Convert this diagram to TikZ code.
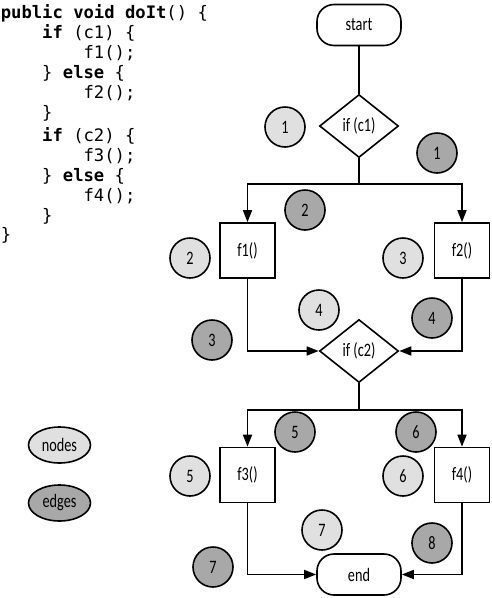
\documentclass[tikz,border=0pt]{standalone}
\usepackage{fontspec}
\setmainfont{Carlito}[FakeStretch=0.75]
\setmonofont{DejaVu Sans Mono}
\usetikzlibrary{shapes.geometric,arrows.meta}
\definecolor{nodegray}{HTML}{E0E0E0}
\definecolor{edgegray}{HTML}{A8A8A8}
\begin{document}
\begin{tikzpicture}[x=1pt,y=-1pt,line width=1.6pt,font=\fontsize{19}{21}\selectfont,
  term/.style={draw,rounded corners=17pt,minimum width=84pt,minimum height=41pt,inner sep=0pt},
  test/.style={draw,diamond,minimum width=79pt,minimum height=63pt,inner sep=0pt},
  stmt/.style={draw,minimum width=55pt,minimum height=55pt,inner sep=0pt},
  nodemark/.style={circle,draw,fill=nodegray,minimum size=40pt,inner sep=0pt},
  edgemark/.style={circle,draw,fill=edgegray,minimum size=40pt,inner sep=0pt},
  keymark/.style={ellipse,draw,minimum width=62pt,minimum height=36pt,inner sep=0pt},
  flow/.style={-{Triangle[length=12pt,width=9pt]}},
  codeline/.style={anchor=base west,inner sep=0pt,font=\ttfamily\fontsize{17.2}{20}\selectfont}]
 	\useasboundingbox (0,0) rectangle (492,598);
 	% source code
 	\node[codeline] (code1) at (0,18) {\textbf{public void doIt}() \{};
 	\node[codeline] (code2) at (41.4,38) {\textbf{if} (c1) \{};
 	\node[codeline] (code3) at (82.8,58) {f1();};
 	\node[codeline] (code4) at (41.4,78) {\} \textbf{else} \{};
 	\node[codeline] (code5) at (82.8,98) {f2();};
 	\node[codeline] (code6) at (41.4,118) {\}};
 	\node[codeline] (code7) at (41.4,141) {\textbf{if} (c2) \{};
 	\node[codeline] (code8) at (82.8,161) {f3();};
 	\node[codeline] (code9) at (41.4,181) {\} \textbf{else} \{};
 	\node[codeline] (code10) at (82.8,201) {f4();};
 	\node[codeline] (code11) at (41.4,221) {\}};
 	\node[codeline] (code12) at (0,240) {\}};
 	% flow graph
 	\node[term] (start) at (359,25) {start};
 	\node[test] (c1) at (359,126) {if (c1)};
 	\node[stmt] (f1) at (247.5,250.5) {f1()};
 	\node[stmt] (f2) at (462,250.5) {f2()};
 	\node[test] (c2) at (359,351) {if (c2)};
 	\node[stmt] (f3) at (247.5,475) {f3()};
 	\node[stmt] (f4) at (462,475) {f4()};
 	\node[term] (end) at (359,574.5) {end};
 	\coordinate (j1) at (359,184);
 	\coordinate (j2) at (359,410);
 	\draw (start)--(c1);
 	\draw (c1)--(j1);
 	\draw[flow] (j1)-|(f1);
 	\draw[flow] (j1)-|(f2);
 	\draw[flow] (f1)|-(c2);
 	\draw[flow] (f2)|-(c2);
 	\draw (c2)--(j2);
 	\draw[flow] (j2)-|(f3);
 	\draw[flow] (j2)-|(f4);
 	\draw[flow] (f3)|-(end);
 	\draw[flow] (f4)|-(end);
 	% numbered marks
 	\foreach \n/\x/\y in {1/285/127,2/190/258,3/403/258,4/319/310,5/190/476,6/403/476,7/322/530}
 	   	\node[nodemark] (n\n) at (\x,\y) {\n};
 	\foreach \n/\x/\y in {1/437/153,2/305/210,3/212/340,4/432/318,5/295/432,6/416/432,7/213/567,8/432/543}
 	   	\node[edgemark] (e\n) at (\x,\y) {\n};
 	% key
 	\node[keymark,fill=nodegray] (nodeskey) at (59.5,445) {nodes};
 	\node[keymark,fill=edgegray] (edgeskey) at (59.5,503) {edges};
\end{tikzpicture}
\end{document}
